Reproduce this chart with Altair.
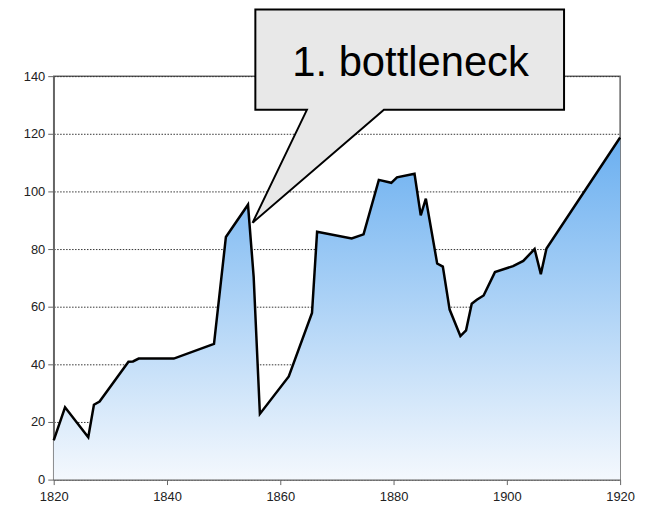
import altair as alt
import pandas as pd

# Series
years = [1820, 1822, 1826.1, 1827.1, 1828.1, 1833.2, 1834, 1835, 1841.2, 1848.3,
         1850.4, 1854.3, 1855.3, 1856.4, 1861.5, 1865.6, 1866.5, 1872.6, 1874.7, 1877.4,
         1879.6, 1880.6, 1883.7, 1884.8, 1885.7, 1887.7, 1888.7, 1889.9, 1891.8, 1892.8,
         1893.8, 1894.7, 1895.9, 1897.9, 1901.1, 1902.9, 1904.9, 1906.0, 1907.0, 1920]
values = [13.6, 25.1, 14.7, 26, 27.1, 40.9, 41, 42, 42, 47.1,
          84.2, 95.4, 70.4, 22.8, 35.8, 57.8, 86, 83.7, 85.1, 104,
          103, 104.9, 106.1, 91.7, 97.5, 75, 73.9, 59, 49.8, 51.8,
          61, 62.4, 63.9, 72, 74.1, 75.9, 80, 71.3, 80.2, 118.7]

x_ticks = [1820, 1840, 1860, 1880, 1900, 1920]
y_ticks = [0, 20, 40, 60, 80, 100, 120, 140]

# Callout (speech bubble) outline, in data units
callout_text = "1. bottleneck"
callout_x = [1855.1, 1864.7, 1855.6, 1855.6, 1910.1, 1910.1, 1878.3, 1855.1]
callout_y = [89.1, 128.3, 128.3, 163.1, 163.1, 128.3, 128.3, 89.1]
label_x = [1883]
label_y = [140]

df = pd.DataFrame({"year": years, "value": values})
df_call = pd.DataFrame({"x": callout_x, "y": callout_y, "i": list(range(len(callout_x)))})
df_text = pd.DataFrame({"x": label_x, "y": label_y, "t": [callout_text]})

xscale = alt.Scale(domain=[1820, 1920], nice=False, zero=False)
yscale = alt.Scale(domain=[0, 140], nice=False)

xaxis = alt.Axis(values=x_ticks, format="d", title=None, grid=False,
                 labelFont="Liberation Sans", labelFontSize=13, labelColor="#222",
                 domainColor="#666", domainWidth=1.5, tickColor="#666", tickSize=5,
                 labelPadding=6, labelFlush=False)
yaxis = alt.Axis(values=y_ticks, title=None, grid=True, gridDash=[1.5, 1.5],
                 gridColor="#333", gridWidth=1,
                 labelFont="Liberation Sans", labelFontSize=13, labelColor="#222",
                 domainColor="#666", domainWidth=1.5, tickColor="#666", tickSize=6,
                 labelPadding=3)

grad = alt.Gradient(
    gradient="linear",
    stops=[alt.GradientStop(color="#6aaff0", offset=0),
           alt.GradientStop(color="#f4f8fd", offset=1)],
    x1=0, x2=0, y1=0, y2=1,
)

area = alt.Chart(df).mark_area(color=grad).encode(
    x=alt.X("year:Q", scale=xscale, axis=xaxis),
    y=alt.Y("value:Q", scale=yscale, axis=yaxis),
)
line = alt.Chart(df).mark_line(color="black", strokeWidth=2.5).encode(
    x=alt.X("year:Q", scale=xscale),
    y=alt.Y("value:Q", scale=yscale),
)
bubble = alt.Chart(df_call).mark_line(
    fill="#e8e8e8", stroke="black", strokeWidth=2, strokeJoin="miter"
).encode(
    x=alt.X("x:Q", scale=xscale),
    y=alt.Y("y:Q", scale=yscale),
    order=alt.Order("i:Q"),
)
text = alt.Chart(df_text).mark_text(
    font="Liberation Sans", fontSize=42, color="black",
    align="center", baseline="alphabetic"
).encode(
    x=alt.X("x:Q", scale=xscale),
    y=alt.Y("y:Q", scale=yscale),
    text="t:N",
)

chart = alt.layer(area, line, bubble, text).properties(
    width=570, height=406,
    autosize=alt.AutoSizeParams(type="none"),
    padding={"left": 46, "top": 67, "right": 20, "bottom": 27},
).configure_view(stroke="#666", strokeWidth=1.5, fill="white")

chart.save("out.html", embed_options={"renderer": "svg", "actions": False})
